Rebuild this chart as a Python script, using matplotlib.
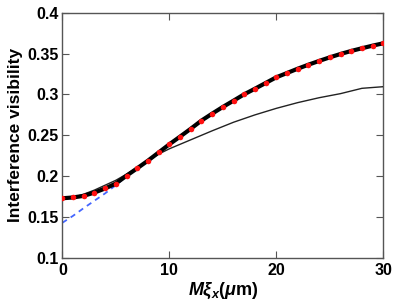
import matplotlib
matplotlib.use("Agg")
import matplotlib.pyplot as plt

plt.rcParams['font.family'] = ['Liberation Sans', 'DejaVu Sans']
plt.rcParams['mathtext.fontset'] = 'custom'
plt.rcParams['mathtext.it'] = 'Liberation Sans:italic:bold'
plt.rcParams['mathtext.rm'] = 'Liberation Sans:bold'
plt.rcParams['mathtext.bf'] = 'Liberation Sans:bold'

# Data
x_dots = list(range(0, 31))
v_dots = [0.173, 0.174, 0.176, 0.180, 0.185, 0.191, 0.2006, 0.2097, 0.219, 0.229,
          0.239, 0.2484, 0.258, 0.268, 0.2765, 0.2847, 0.2924, 0.3002, 0.307, 0.314,
          0.321, 0.3262, 0.3315, 0.3364, 0.341, 0.3454, 0.3495, 0.3532, 0.3565, 0.3597,
          0.3626]

x_thin = [0, 1, 2, 3, 4, 5, 6, 7, 8, 9, 10, 12, 13, 14, 16, 18, 20, 22, 24, 26, 28, 30]
v_thin = [0.173, 0.174, 0.178, 0.183, 0.189, 0.195, 0.2025, 0.2105, 0.219, 0.227,
          0.2335, 0.2445, 0.250, 0.2555, 0.266, 0.275, 0.283, 0.290, 0.296, 0.301,
          0.3075, 0.3095]

x_blue = [0, 1, 2, 3, 4, 5, 6, 7, 8]
v_blue = [0.143, 0.1515, 0.161, 0.170, 0.179, 0.189, 0.2, 0.2097, 0.219]

xticks = [0, 10, 20, 30]
yticks = [0.1, 0.15, 0.2, 0.25, 0.3, 0.35, 0.4]
ytick_labels = ['0.1', '0.15', '0.2', '0.25', '0.3', '0.35', '0.4']

fig = plt.figure(figsize=(4.01, 3.06), dpi=100)
ax = fig.add_axes([0.1554, 0.157, 0.8005, 0.8015])

ax.plot(x_blue, v_blue, color='#4466ff', lw=1.3, ls=(0, (3, 2.5)), zorder=2)
ax.plot(x_thin, v_thin, color='#222222', lw=1.0, zorder=3)
ax.plot(x_dots, v_dots, color='black', lw=3.0, zorder=4)
ax.plot(x_dots, v_dots, ls='none', marker='o', ms=4, color='#ff1010',
        markeredgewidth=0, zorder=5)

ax.set_xlim(0, 30)
ax.set_ylim(0.1, 0.4)
ax.set_xticks(xticks)
ax.set_xticklabels([str(t) for t in xticks])
ax.set_yticks(yticks)
ax.set_yticklabels(ytick_labels)

for s in ax.spines.values():
    s.set_color('#555555')
    s.set_linewidth(1.0)
ax.tick_params(direction='in', length=5, width=0.8, color='#555555',
               top=True, right=True, labelsize=11.5)
ax.tick_params(axis='y', pad=2.5)
ax.tick_params(axis='x', pad=3.5)
for lab in ax.get_xticklabels() + ax.get_yticklabels():
    lab.set_fontweight('bold')

ax.set_ylabel('Interference visibility', fontsize=12.5, fontweight='bold', labelpad=3)
ax.set_xlabel(r'$M\xi_x(\mu\mathrm{m})$', fontsize=13, labelpad=2)

fig.savefig('out.png', dpi=100)
